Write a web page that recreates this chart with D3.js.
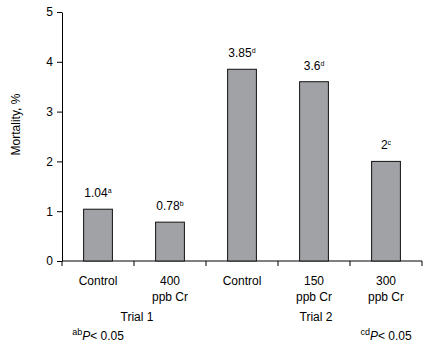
<!DOCTYPE html>
<html>
<head>
<meta charset="utf-8">
<script src="https://cdn.jsdelivr.net/npm/d3@7"></script>
<style>
  body { margin: 0; background: #fff; }
  svg { font-family: "Liberation Sans", Arial, sans-serif; }
  .axis path, .axis line { stroke: #000; }
  .axis text { font-size: 12px; fill: #000; }
</style>
</head>
<body>
<svg width="428" height="343"></svg>
<script>
// mortality per treatment group
const categories = ['Control', '400', 'Control', '150', '300']
const subLabels = ['', 'ppb Cr', '', 'ppb Cr', 'ppb Cr']
const mortality = [1.04, 0.78, 3.85, 3.6, 2]
const letters = ['a', 'b', 'd', 'd', 'c']
const yTicks = [0, 1, 2, 3, 4, 5]

// trial groupings (first, last bar index) and their footnotes
const trialNames = ['Trial 1', 'Trial 2']
const trialFirst = [0, 2]
const trialLast = [1, 4]
const noteLetters = ['ab', 'cd']
const noteBar = [0, 4]

const svg = d3.select('svg')
const margin = {top: 12, right: 6, bottom: 82, left: 62}
const width = 428 - margin.left - margin.right,
  height = 343 - margin.top - margin.bottom

const ids = categories.map((c, i) => i)

const x = d3.scaleBand()
  .domain(ids)
  .range([0, width])
  .paddingInner(0.6)
  .paddingOuter(0.3)

const y = d3.scaleLinear()
  .domain([0, 5])
  .range([height, 0])

const g = svg.append('g')
  .attr('transform', `translate(${margin.left}, ${margin.top})`)

// y axis
g.append('g')
  .attr('class', 'axis')
  .call(d3.axisLeft(y).tickValues(yTicks).tickSize(5).tickSizeOuter(0).tickPadding(4).tickFormat(d3.format('d')))

// x axis with ticks between the groups
const step = x.step()
const edges = ids.map(i => x(i) - step * 0.3).concat([width])

const xAxis = g.append('g').attr('class', 'axis')
xAxis.append('line')
  .attr('x1', 0).attr('x2', width)
  .attr('y1', height).attr('y2', height)
xAxis.selectAll('.tick')
  .data(edges)
  .enter()
  .append('line')
  .attr('x1', d => d).attr('x2', d => d)
  .attr('y1', height).attr('y2', height + 5)

// bars
g.selectAll('.bar')
  .data(ids)
  .enter()
  .append('rect')
  .attr('class', 'bar')
  .attr('x', i => x(i))
  .attr('y', i => y(mortality[i]))
  .attr('width', x.bandwidth())
  .attr('height', i => height - y(mortality[i]))
  .attr('fill', '#a1a2a6')
  .attr('stroke', '#111')
  .attr('stroke-width', 1)

// value labels with significance letters
const vals = g.selectAll('.val')
  .data(ids)
  .enter()
  .append('text')
  .attr('class', 'val')
  .attr('x', i => x(i) + x.bandwidth() / 2)
  .attr('y', i => y(mortality[i]) - 12)
  .attr('text-anchor', 'middle')
  .style('font-size', '12px')

vals.append('tspan').text(i => mortality[i])
vals.append('tspan')
  .attr('dy', -4)
  .style('font-size', '7px')
  .text(i => letters[i])

// category labels
g.selectAll('.cat')
  .data(ids)
  .enter()
  .append('text')
  .attr('class', 'cat')
  .attr('x', i => x(i) + x.bandwidth() / 2)
  .attr('y', height + 24)
  .attr('text-anchor', 'middle')
  .style('font-size', '12px')
  .text(i => categories[i])

g.selectAll('.sub')
  .data(ids.filter(i => subLabels[i]))
  .enter()
  .append('text')
  .attr('class', 'sub')
  .attr('x', i => x(i) + x.bandwidth() / 2)
  .attr('y', height + 40)
  .attr('text-anchor', 'middle')
  .style('font-size', '12px')
  .text(i => subLabels[i])

// trial names
g.selectAll('.trial')
  .data(trialNames)
  .enter()
  .append('text')
  .attr('class', 'trial')
  .attr('x', (d, k) => (x(trialFirst[k]) + x(trialLast[k]) + x.bandwidth()) / 2 + (k === 0 ? 3 : 2))
  .attr('y', height + 60)
  .attr('text-anchor', 'middle')
  .style('font-size', '12px')
  .text(d => d)

// significance footnotes
const notes = g.selectAll('.note')
  .data(noteLetters)
  .enter()
  .append('text')
  .attr('class', 'note')
  .attr('x', (d, k) => x(noteBar[k]) + x.bandwidth() / 2)
  .attr('y', height + 79)
  .attr('text-anchor', 'middle')
  .style('font-size', '12px')

notes.append('tspan').attr('dy', -5).style('font-size', '9px').text(d => d)
notes.append('tspan').attr('dy', 5).style('font-style', 'italic').text('P')
notes.append('tspan').text('< 0.05')

// y axis title
g.append('text')
  .attr('transform', 'rotate(-90)')
  .attr('x', -height / 2 + 12)
  .attr('y', -margin.left + 20)
  .attr('text-anchor', 'middle')
  .style('font-size', '12px')
  .text('Mortality, %')
</script>
</body>
</html>
